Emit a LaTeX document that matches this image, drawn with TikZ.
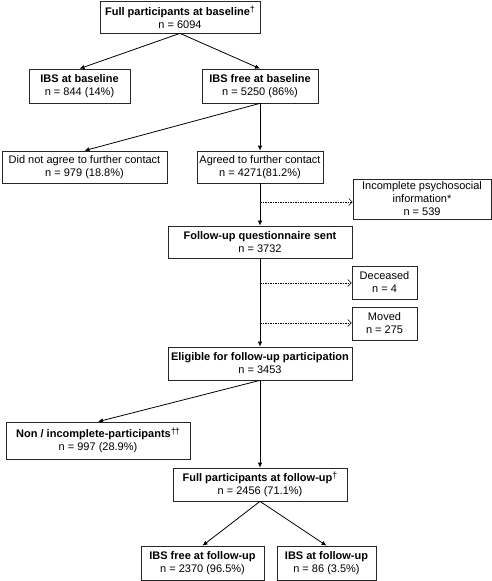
\documentclass[tikz,border=0pt]{standalone}
\usepackage{fontspec}
\setmainfont{Liberation Sans}
\usepackage{tikz}
\usetikzlibrary{arrows.meta,calc}

\newcommand{\dg}{\raisebox{.45ex}{\fontsize{9}{9}\selectfont\textdagger}}

\begin{document}
\begin{tikzpicture}[x=1pt,y=-1pt,
   box/.style={draw=black!85,line width=.7pt,inner sep=0,align=center,
               font=\fontsize{11}{13}\selectfont},
   arr/.style={line width=.8pt,-{Latex[length=5pt,width=4.5pt]}},
   dasharr/.style={line width=.6pt,dash pattern=on 1.5pt off 1pt,
                   -{Straight Barb[length=3.5pt,width=7pt]}}]

   \useasboundingbox (0,0) rectangle (492,581);

   % Baseline
   \node[box,minimum width=160pt,minimum height=32pt] (base) at (180,17)
      {\textbf{Full participants at baseline}\dg\\n = 6094};
   \node[box,minimum width=101pt,minimum height=34pt] (ibsbase) at (79.5,86)
      {\textbf{IBS at baseline}\\n = 844 (14\%)};
   \node[box,minimum width=116pt,minimum height=34pt] (ibsfree) at (260,86)
      {\textbf{IBS free at baseline}\\n = 5250 (86\%)};

   % Contact
   \node[box,minimum width=165pt,minimum height=32pt] (nocontact) at (84.5,167)
      {Did not agree to further contact\\n = 979 (18.8\%)};
   \node[box,minimum width=126pt,minimum height=32pt] (contact) at (260,167)
      {Agreed to further contact\\n = 4271(81.2\%)};
   \node[box,minimum width=138pt,minimum height=40pt] (incomplete) at (422,199)
      {Incomplete psychosocial\\information*\\n = 539};

   % Follow-up
   \node[box,minimum width=184pt,minimum height=32pt] (sent) at (260,242)
      {\textbf{Follow-up questionnaire sent}\\n = 3732};
   \node[box,minimum width=65pt,minimum height=33pt] (deceased) at (384.5,282.5)
      {Deceased\\n = 4};
   \node[box,minimum width=65pt,minimum height=33pt] (moved) at (384.5,323.5)
      {Moved\\n = 275};
   \node[box,minimum width=184pt,minimum height=33pt] (eligible) at (260,363.5)
      {\textbf{Eligible for follow-up participation}\\n = 3453};
   \node[box,minimum width=184pt,minimum height=37pt] (nonpart) at (98,440.5)
      {\textbf{Non / incomplete-participants}\dg\kern-1pt\dg\\n = 997 (28.9\%)};
   \node[box,minimum width=174pt,minimum height=33pt] (fullfu) at (260,484.5)
      {\textbf{Full participants at follow-up}\dg\\n = 2456 (71.1\%)};
   \node[box,minimum width=123pt,minimum height=34pt] (ibsfreefu) at (202.5,563)
      {\textbf{IBS free at follow-up}\\n = 2370 (96.5\%)};
   \node[box,minimum width=99pt,minimum height=34pt] (ibsfu) at (326.5,563)
      {\textbf{IBS at follow-up}\\n = 86 (3.5\%)};

   % Arrows
   \draw[arr] (base.south) -- (ibsbase.north);
   \draw[arr] (base.south) -- (ibsfree.north);
   \draw[arr] (ibsfree.south) -- (nocontact.north);
   \draw[arr] (ibsfree.south) -- (contact.north);
   \draw[arr] (contact.south) -- (sent.north);
   \draw[arr] (sent.south) -- (eligible.north);
   \draw[arr] (eligible.south) -- (nonpart.north);
   \draw[arr] (eligible.south) -- (fullfu.north);
   \draw[arr] (fullfu.south) -- (ibsfreefu.north);
   \draw[arr] (fullfu.south) -- (ibsfu.north);

   % Exclusions
   \coordinate (ex1) at (260,202);
   \coordinate (ex2) at (260,283);
   \coordinate (ex3) at (260,323);
   \draw[dasharr] (ex1) -- (ex1 -| incomplete.west);
   \draw[dasharr] (ex2) -- (ex2 -| deceased.west);
   \draw[dasharr] (ex3) -- (ex3 -| moved.west);

\end{tikzpicture}
\end{document}
